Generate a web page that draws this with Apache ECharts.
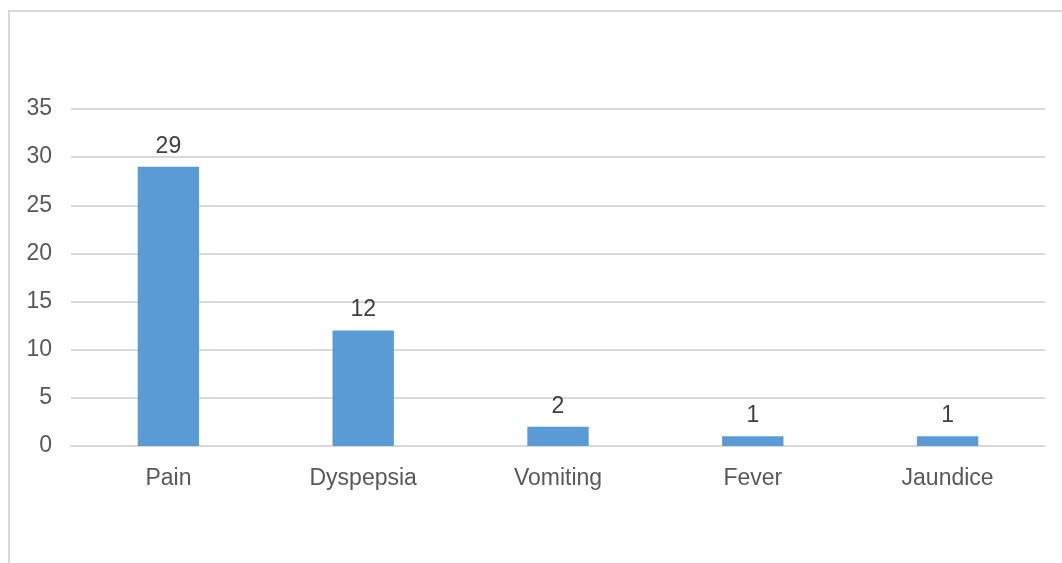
<!DOCTYPE html>
<html><head><meta charset="utf-8">
<script src="https://cdn.jsdelivr.net/npm/echarts@6/dist/echarts.min.js"></script>
<style>html,body{margin:0;padding:0;background:#fff;}#c{width:1062px;height:563px;}</style>
</head><body><div id="c"></div>
<script>
const categories = ['Pain', 'Dyspepsia', 'Vomiting', 'Fever', 'Jaundice'];
const values = [29, 12, 2, 1, 1];
const yTicks = { min: 0, max: 35, interval: 5 };

const chart = echarts.init(document.getElementById('c'), null, { renderer: 'canvas' });
const FONT = 'Liberation Sans, Arial, sans-serif';
chart.setOption({
  animation: false,
  backgroundColor: '#ffffff',
  graphic: [{
    type: 'rect', shape: { x: 9, y: 11, width: 1100, height: 600 },
    style: { fill: 'none', stroke: '#d9d9d9', lineWidth: 2 }, silent: true
  }],
  grid: { left: 71, right: 17, top: 109, bottom: 117, containLabel: false },
  xAxis: {
    type: 'category', data: categories,
    axisLine: { show: true, lineStyle: { color: '#d9d9d9', width: 2 } },
    axisTick: { show: false },
    axisLabel: { color: '#595959', fontFamily: FONT, fontSize: 23, margin: 21 }
  },
  yAxis: {
    type: 'value', min: yTicks.min, max: yTicks.max, interval: yTicks.interval,
    axisLine: { show: false }, axisTick: { show: false },
    splitLine: { lineStyle: { color: '#d9d9d9', width: 2 } },
    axisLabel: { color: '#595959', fontFamily: FONT, fontSize: 23, margin: 19 }
  },
  series: [{
    type: 'bar', data: values, barWidth: '31.5%',
    itemStyle: { color: '#5b9bd5' },
    label: { show: true, position: 'top', distance: 9, color: '#404040',
      fontFamily: FONT, fontSize: 23 }
  }]
});
</script></body></html>
